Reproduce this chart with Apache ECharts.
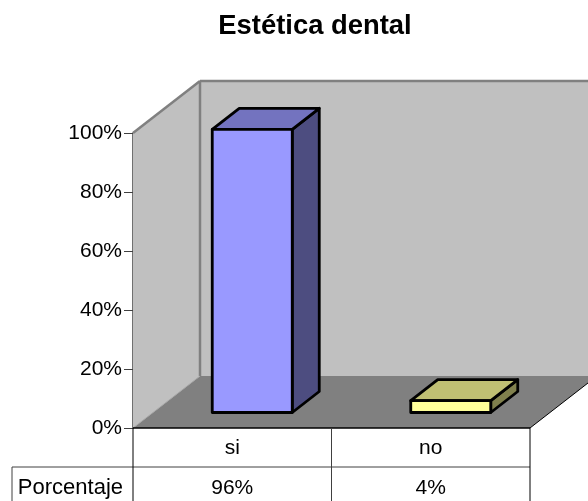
<!DOCTYPE html>
<html>
<head>
<meta charset="utf-8">
<style>html,body{margin:0;padding:0;background:#fff}#chart{width:588px;height:501px}</style>
<script src="https://cdn.jsdelivr.net/npm/echarts@6/dist/echarts.min.js"></script>
</head>
<body>
<div id="chart"></div>
<script>
const chartTitle = 'Estética dental';
const categories = ['si', 'no'];
const shares = [0.96, 0.04];
const rowName = 'Porcentaje';

const font = '"Liberation Sans", Arial, sans-serif';
const plot = { left: 133, top: 133, width: 397, height: 295 };
const room = { dx: 67, dy: -52 };       // receding depth of walls and floor
const barDepth = { dx: 27, dy: -21 };
const barInset = { dx: 20, dy: -15.5 }; // how far a bar sits back from the front edge
const barWidth = 80;

const chart = echarts.init(document.getElementById('chart'), null, { renderer: 'canvas' });
const pct = v => Math.round(v * 100) + '%';

function poly(points, fill, stroke, lineWidth) {
  return {
    type: 'polygon',
    shape: { points },
    style: { fill, stroke: stroke || 'none', lineWidth: lineWidth || 0, lineJoin: 'round' }
  };
}
function seg(a, b, stroke, lineWidth) {
  return {
    type: 'line',
    shape: { x1: a[0], y1: a[1], x2: b[0], y2: b[1] },
    style: { stroke, lineWidth }
  };
}

// Walls and floor of the 3D box, anchored on the axis scales.
function renderRoom(params, api) {
  const x0 = params.coordSys.x;
  const x1 = x0 + params.coordSys.width;
  const yLow = api.coord([categories[0], 0])[1];
  const yHigh = api.coord([categories[0], 1])[1];
  const d = room;
  return {
    type: 'group',
    children: [
      poly([[x0 + d.dx, yHigh + d.dy], [x1 + d.dx, yHigh + d.dy], [x1 + d.dx, yLow + d.dy], [x0 + d.dx, yLow + d.dy]], '#c0c0c0'),
      poly([[x0, yHigh], [x0 + d.dx, yHigh + d.dy], [x0 + d.dx, yLow + d.dy], [x0, yLow]], '#c0c0c0'),
      poly([[x0, yLow], [x1, yLow], [x1 + d.dx, yLow + d.dy], [x0 + d.dx, yLow + d.dy]], '#808080'),
      seg([x0, yHigh], [x0 + d.dx, yHigh + d.dy], '#808080', 2.5),
      seg([x0 + d.dx, yHigh + d.dy], [x1 + d.dx, yHigh + d.dy], '#808080', 2.5),
      seg([x0 + d.dx, yHigh + d.dy], [x0 + d.dx, yLow + d.dy], '#808080', 2.5),
      seg([x0, yLow], [x0 + d.dx, yLow + d.dy], '#a8a8a8', 1),
      seg([x1, yLow], [x1 + d.dx, yLow + d.dy], '#000000', 1)
    ]
  };
}

// One 3D column: front, top and side faces.
const faces = [
  { front: '#9999ff', top: '#7373bf', side: '#4d4d80' },
  { front: '#ffff99', top: '#bfbf73', side: '#80804d' }
];
function renderColumn(params, api) {
  const pos = api.coord([api.value(0), api.value(1)]);
  const base = api.coord([api.value(0), 0]);
  const c = faces[params.dataIndex];
  const l = pos[0] - barWidth / 2 + barInset.dx;
  const r = l + barWidth;
  const t = pos[1] + barInset.dy;
  const b = base[1] + barInset.dy;
  const d = barDepth;
  return {
    type: 'group',
    children: [
      poly([[r, t], [r + d.dx, t + d.dy], [r + d.dx, b + d.dy], [r, b]], c.side, '#000', 2.8),
      poly([[l, t], [l + d.dx, t + d.dy], [r + d.dx, t + d.dy], [r, t]], c.top, '#000', 2.8),
      poly([[l, t], [r, t], [r, b], [l, b]], c.front, '#000', 2.8)
    ]
  };
}

// Data table under the plot: rules and the row header.
function renderTable(params, api) {
  const cs = params.coordSys;
  const x0 = cs.x, x1 = cs.x + cs.width, yBase = cs.y + cs.height;
  const mid = x0 + cs.width / categories.length;
  const rowY = yBase + 39, end = yBase + 73;
  const head = x0 - 121;
  return {
    type: 'group',
    children: [
      seg([x0, yBase], [x1, yBase], '#000', 1.5),
      seg([head, rowY], [x1, rowY], '#404040', 1),
      seg([head, rowY], [head, end], '#404040', 1),
      seg([x0, yBase], [x0, end], '#000', 1),
      seg([mid, yBase], [mid, end], '#404040', 1),
      seg([x1, yBase], [x1, end], '#000', 1),
      {
        type: 'text',
        style: { x: x0 - 10, y: rowY + 21, text: rowName, fill: '#000', font: '22px ' + font, align: 'right', verticalAlign: 'middle' }
      }
    ]
  };
}

chart.setOption({
  animation: false,
  backgroundColor: '#fff',
  title: {
    text: chartTitle,
    left: 310, top: 8, textAlign: 'center',
    textStyle: { fontFamily: font, fontSize: 27.4, fontWeight: 'bold', color: '#000' }
  },
  grid: { left: plot.left, top: plot.top, width: plot.width, height: plot.height },
  xAxis: [
    {
      type: 'category', data: categories, position: 'bottom',
      axisLine: { show: false }, axisTick: { show: false },
      axisLabel: { color: '#000', fontFamily: font, fontSize: 21, margin: 10 }
    },
    {
      type: 'category', data: shares.map(pct), position: 'bottom', offset: 39,
      axisLine: { show: false }, axisTick: { show: false },
      axisLabel: { color: '#000', fontFamily: font, fontSize: 21, margin: 11 }
    }
  ],
  yAxis: {
    type: 'value', min: 0, max: 1, interval: 0.2,
    axisLine: { show: true, lineStyle: { color: '#404040', width: 1.5 } },
    axisTick: { show: true, length: 9, lineStyle: { color: '#404040', width: 1 } },
    splitLine: { show: false },
    axisLabel: { color: '#000', fontFamily: font, fontSize: 21, margin: 11, formatter: v => pct(v) }
  },
  series: [
    { type: 'custom', renderItem: renderRoom, data: [[0]], clip: false, silent: true, z: 1 },
    { type: 'custom', renderItem: renderColumn, encode: { x: 0, y: 1 },
      data: categories.map((c, i) => [c, shares[i]]), clip: false, z: 3 },
    { type: 'custom', renderItem: renderTable, data: [[0]], clip: false, silent: true, z: 2 }
  ]
});
</script>
</body>
</html>
